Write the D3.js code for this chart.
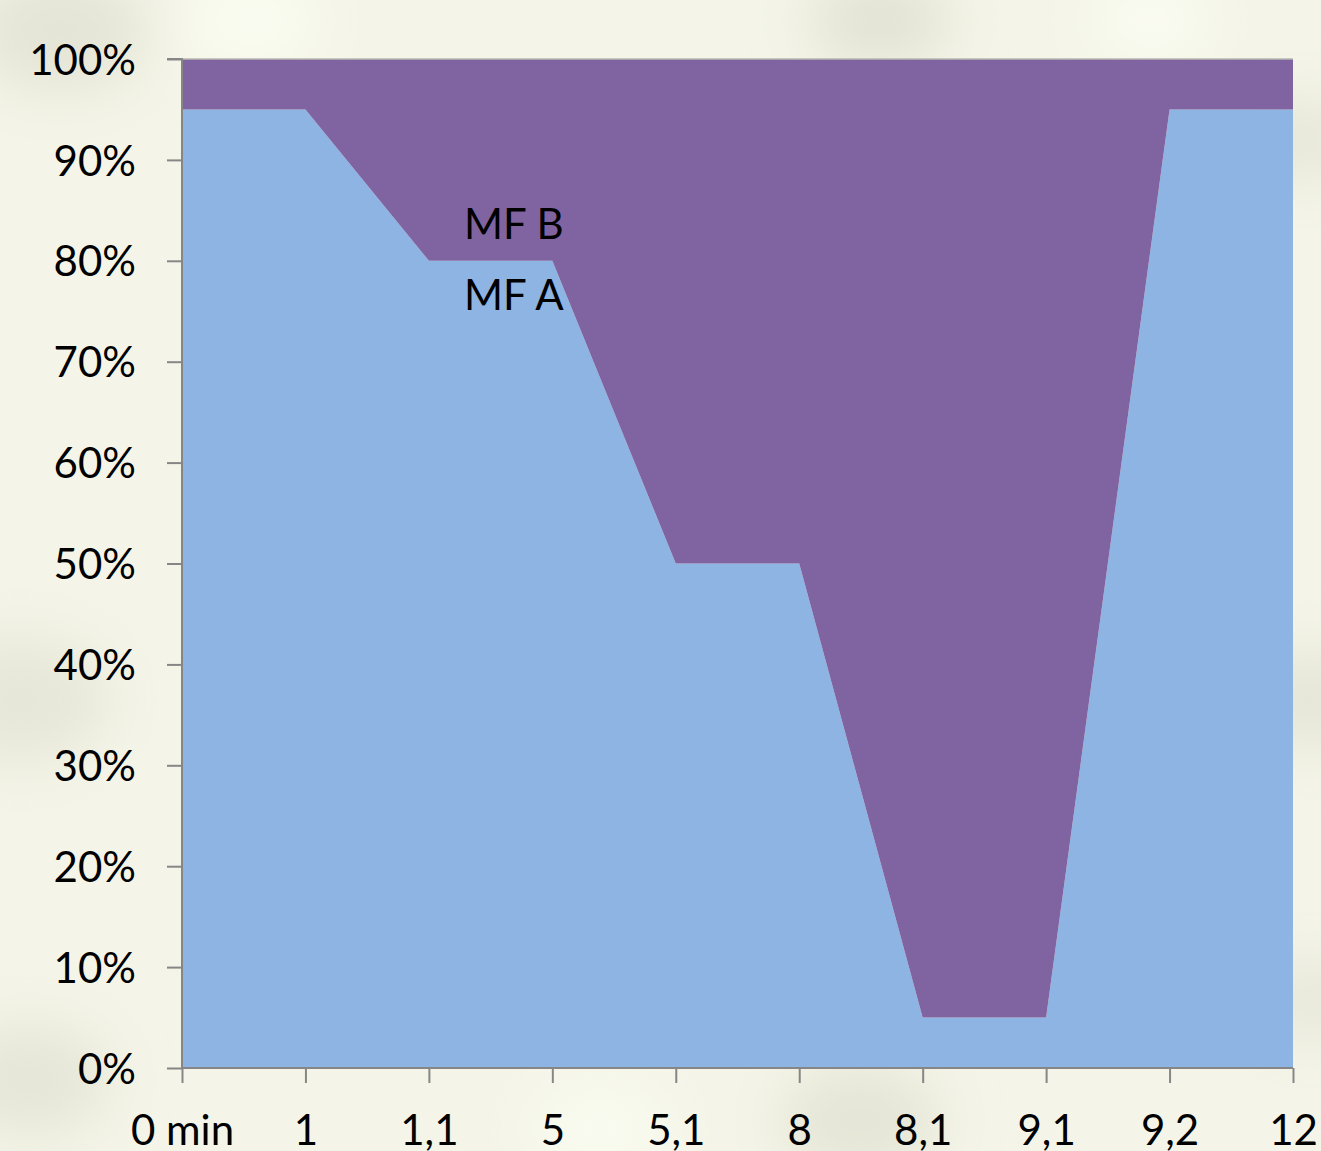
<!DOCTYPE html>
<html>
<head>
<meta charset="utf-8">
<script src="https://cdn.jsdelivr.net/npm/d3@7"></script>
<style>
  html, body { margin: 0; padding: 0; background: #f3f4e6; }
  svg { display: block; }
</style>
</head>
<body>
<script>
// Time points along the x axis (categorical, evenly spaced)
const categories = ["0 min", "1", "1,1", "5", "5,1", "8", "8,1", "9,1", "9,2", "12"];
// Share of MF A at each time point (%)
const mfA = [95, 95, 80, 80, 50, 50, 5, 5, 95, 95];
// Share of MF B at each time point (%)
const mfB = [5, 5, 20, 20, 50, 50, 95, 95, 5, 5];
const yTicks = [0, 10, 20, 30, 40, 50, 60, 70, 80, 90, 100];

const W = 1321, H = 1151;
const plotL = 182, plotR = 1293, plotT = 59, plotB = 1068;

const svg = d3.select("body").append("svg").attr("width", W).attr("height", H);
const defs = svg.append("defs");

// soft mottled paper background
const blur = defs.append("filter").attr("id", "soft").attr("x", "-50%").attr("y", "-50%").attr("width", "200%").attr("height", "200%");
blur.append("feGaussianBlur").attr("stdDeviation", 28);
svg.append("rect").attr("width", W).attr("height", H).attr("fill", "#f4f5e8");
const blotches = [
  [60, 30, 90, "#e4e5d6"], [880, 20, 70, "#e2e3d4"], [1300, 140, 60, "#e6e7d8"],
  [20, 700, 90, "#e6e7d8"], [30, 1080, 80, "#e5e6d7"], [860, 1120, 80, "#e4e5d6"],
  [1310, 700, 70, "#e5e6d7"], [600, 1130, 70, "#fafbf0"], [1150, 20, 60, "#fbfcf2"],
  [250, 20, 70, "#fbfcf1"], [1310, 1000, 60, "#e7e8da"]
];
svg.append("g").attr("filter", "url(#soft)")
  .selectAll("ellipse").data(blotches).join("ellipse")
  .attr("cx", d => d[0]).attr("cy", d => d[1]).attr("rx", d => d[2]).attr("ry", d => d[2] * 0.7)
  .attr("fill", d => d[3]);

const x = d3.scalePoint().domain(categories).range([plotL, plotR]);
const y = d3.scaleLinear().domain([0, 100]).range([plotB, plotT]);

const rows = categories.map((c, i) => ({ cat: c, A: mfA[i], B: mfB[i] }));
const stack = d3.stack().keys(["A", "B"]).offset(d3.stackOffsetExpand);
const series = stack(rows);
const colors = { A: "#8eb4e3", B: "#8064a2" };

const area = d3.area()
  .x(d => x(d.data.cat))
  .y0(d => y(d[0] * 100))
  .y1(d => y(d[1] * 100));

svg.append("g").selectAll("path").data(series).join("path")
  .attr("d", area)
  .attr("fill", d => colors[d.key]);

// top border of plot area
svg.append("line").attr("x1", plotL).attr("x2", plotR).attr("y1", plotT).attr("y2", plotT)
  .attr("stroke", "#b8b8b0").attr("stroke-width", 1.5);

const font = "Lato, 'Open Sans', sans-serif";
const fs = 42;

// y axis
const yAxis = d3.axisLeft(y).tickValues(yTicks).tickFormat(d => d + "%").tickSize(15).tickPadding(31);
const gy = svg.append("g").attr("transform", `translate(${plotL},0)`).call(yAxis);
gy.select(".domain").attr("stroke", "#868686").attr("stroke-width", 2).attr("d", `M-15,${plotT}H0V${plotB}`);
gy.selectAll(".tick line").attr("stroke", "#868686").attr("stroke-width", 2);
gy.selectAll(".tick text").attr("font-family", font).attr("font-size", fs).attr("fill", "#000")
  .attr("dy", "0.36em");

// x axis
const xAxis = d3.axisBottom(x).tickSize(15).tickPadding(32);
const gx = svg.append("g").attr("transform", `translate(0,${plotB})`).call(xAxis);
gx.select(".domain").attr("stroke", "#868686").attr("stroke-width", 2).attr("d", `M${plotL},0H${plotR}`);
gx.selectAll(".tick line").attr("stroke", "#868686").attr("stroke-width", 2);
gx.selectAll(".tick text").attr("font-family", font).attr("font-size", fs).attr("fill", "#000");

// series labels
svg.append("text").attr("x", 464).attr("y", 239).attr("font-family", font).attr("font-size", fs)
  .attr("fill", "#000").text("MF B");
svg.append("text").attr("x", 464).attr("y", 310).attr("font-family", font).attr("font-size", fs)
  .attr("fill", "#000").text("MF A");
</script>
</body>
</html>
